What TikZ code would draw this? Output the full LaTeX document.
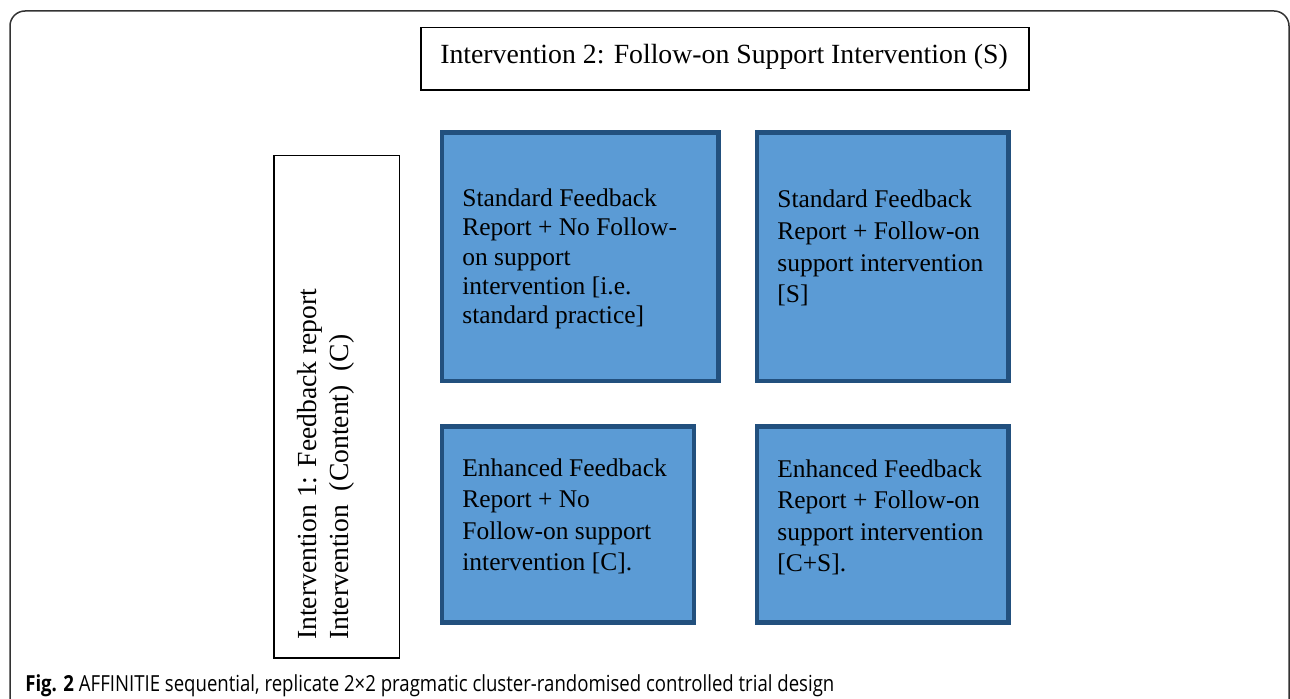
\documentclass[tikz,border=0pt]{standalone}
\usepackage{fontspec}
\setmainfont{Liberation Serif}
\newfontfamily\capfont[FakeStretch=0.84]{Open Sans}
\usetikzlibrary{fit}
\definecolor{cellfill}{HTML}{5B9BD5}
\definecolor{celledge}{HTML}{22507E}

\begin{document}
\begin{tikzpicture}[x=0.02cm,y=-0.02cm,
  panel/.style={draw=black!80,line width=0.03cm,rounded corners=0.3cm,inner sep=0pt},
  hdrbox/.style={draw,line width=0.026cm,inner sep=0pt},
  cellbox/.style={draw=celledge,fill=cellfill,line width=0.09cm,inner sep=0pt},
  celltext/.style={anchor=north west,inner sep=0pt,align=left},
  captext/.style={anchor=base west,inner sep=0pt,font=\capfont\fontsize{12.6}{15}\selectfont}]
\useasboundingbox (0,0) rectangle (1290,699);
\clip (0,0) rectangle (1290,699);

% frame of the figure
\node[panel,fit={(10,11) (1289,760)}] (frame) {};

% factor 2: follow-on support
\node[hdrbox,fit={(421,27.5) (1029,90)}] (sbox) {};
\node[anchor=base,inner sep=0pt,font=\fontsize{15.8}{18}\selectfont] (stext) at (724,63.3)
  {Intervention 2: Follow-on Support Intervention (S)};

% factor 1: feedback report content
\node[hdrbox,fit={(274,155.5) (399.5,658)}] (cbox) {};
\node[celltext,rotate=90,font=\fontsize{15.7}{18.1}\selectfont] (ctext) at (297.5,640)
  {Intervention 1: Feedback report\\Intervention\ \ (Content)\ \ (C)};

% the four arms
\node[cellbox,fit={(442,132.5) (718.5,381)}] (stdnone) {};
\node[cellbox,fit={(757,132.5) (1008.5,381)}] (stds) {};
\node[cellbox,fit={(442,426.3) (694,622.5)}] (enhnone) {};
\node[cellbox,fit={(757,426.3) (1008.5,622.5)}] (enhs) {};

\node[celltext,font=\fontsize{14.5}{16.7}\selectfont] (stdnonetxt) at (462,188.5)
  {Standard Feedback\\Report + No Follow-\\on support\\intervention [i.e.\\standard practice]};
\node[celltext,font=\fontsize{14.5}{18.1}\selectfont] (stdstxt) at (777,189.5)
  {Standard Feedback\\Report + Follow-on\\support intervention\\{}[S]};
\node[celltext,font=\fontsize{14.5}{18}\selectfont] (enhnonetxt) at (462,458)
  {Enhanced Feedback\\Report + No\\Follow-on support\\intervention [C].};
\node[celltext,font=\fontsize{14.5}{18}\selectfont] (enhstxt) at (777,459)
  {Enhanced Feedback\\Report + Follow-on\\support intervention\\{}[C+S].};

% caption
\node[captext] (caption) at (25,691)
  {\textbf{Fig. 2} AFFINITIE sequential, replicate 2×2 pragmatic cluster-randomised controlled trial design};
\end{tikzpicture}
\end{document}
